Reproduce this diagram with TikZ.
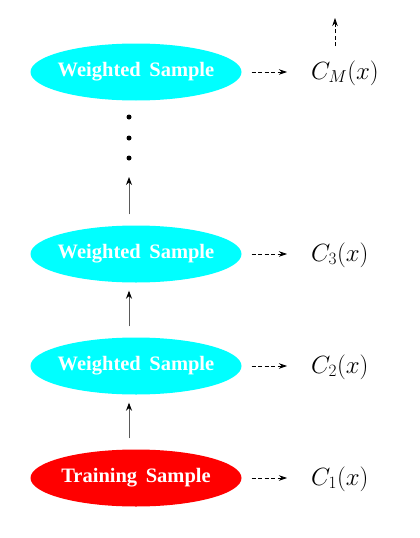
\documentclass[tikz,border=0pt]{standalone}
\usepackage{fontspec}
\setmainfont{Liberation Serif}
\usepackage{tikz}
\usetikzlibrary{positioning,arrows.meta,calc,shapes.geometric}
\definecolor{samplecyan}{RGB}{0,255,255}
\definecolor{trainred}{RGB}{255,0,0}
\definecolor{stemgray}{RGB}{90,90,90}
\tikzset{
  wsample/.style={ellipse, fill=samplecyan, draw=none, minimum width=211pt, minimum height=57pt,
    inner xsep=-10pt, inner ysep=0pt, align=center, font=\fontsize{20.5}{23}\selectfont\bfseries, text=white},
  tsample/.style={wsample, fill=trainred},
  clf/.style={inner sep=0pt, anchor=west, font=\fontsize{26}{30}\selectfont},
  stem/.style={-{Stealth[length=8pt,width=6pt,black]}, line width=0.9pt, draw=stemgray},
  dflow/.style={-{Stealth[length=8pt,width=5.5pt]}, line width=0.7pt, dash pattern=on 4pt off 2.5pt},
  dotmark/.style={circle, fill=black, inner sep=0pt, minimum size=5pt},
}
\begin{document}
\begin{tikzpicture}[x=1pt, y=-1pt]
  \useasboundingbox (0,0) rectangle (420,538);
  \node[tsample] (s1) at (136,478) {Training\, Sample};
  \node[wsample] (s2) at (136,366) {Weighted\, Sample};
  \node[wsample] (s3) at (136,254) {Weighted\, Sample};
  \node[wsample] (sM) at (136,72) {Weighted\, Sample};
  \foreach \y [count=\k] in {117,138,158} \node[dotmark] (dot\k) at (129,\y) {};
  \node[clf] (c1) at (311,479) {$C_1(x)$};
  \node[clf] (c2) at (311,367) {$C_2(x)$};
  \node[clf] (c3) at (311,255) {$C_3(x)$};
  \node[clf] (cM) at (311,73) {$C_M(x)$};
  \coordinate (mfoot) at (335,46);
  \coordinate (top) at (335,18);
  \draw[stem] ($(s1.north)+(-7,-11)$) -- ($(s2.south)+(-7,8)$);
  \draw[stem] ($(s2.north)+(-7,-11)$) -- ($(s3.south)+(-7,8)$);
  \draw[stem] ($(s3.north)+(-7,-11)$) -- ($(dot3)+(0,19)$);
  \foreach \a/\b in {s1/c1,s2/c2,s3/c3,sM/cM}
    \draw[dflow] ($(\a.east)+(10,0)$) -- ($(\b.west)+(-24,-1)$);
  \draw[dflow] (mfoot) -- (top);
\end{tikzpicture}
\end{document}
